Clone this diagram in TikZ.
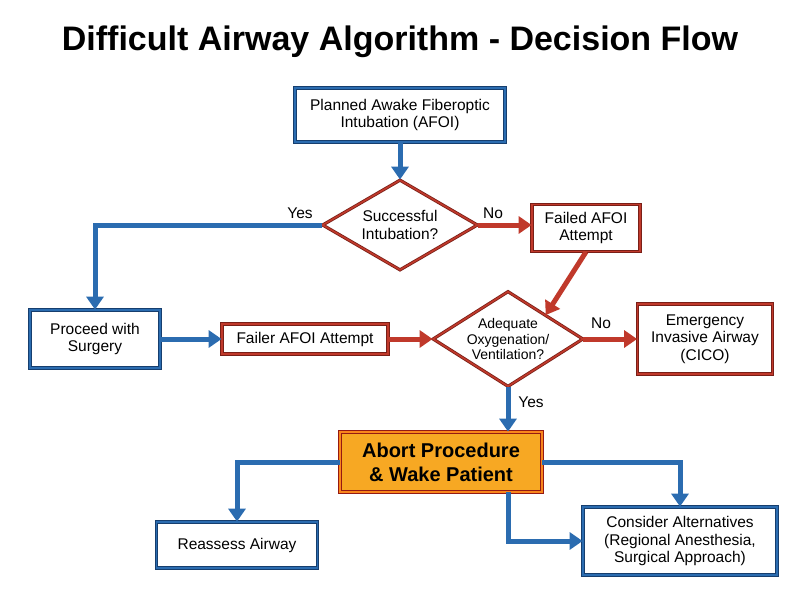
\documentclass[tikz,border=0pt]{standalone}
\usepackage{fontspec}
\setmainfont{Liberation Sans}
\usetikzlibrary{shapes.geometric,arrows.meta}
\definecolor{bl}{HTML}{2B6CB0}
\definecolor{dbl}{HTML}{163E6E}
\definecolor{rd}{HTML}{C0392B}
\definecolor{drd}{HTML}{7A1F17}
\definecolor{org}{HTML}{F7A823}
\begin{document}
\begin{tikzpicture}[x=1pt,y=-1pt,font=\fontsize{15.5}{17.5}\selectfont,
 bbox/.style={rectangle,draw=dbl,double=bl,double distance=1.6pt,line width=0.8pt,fill=white,align=center,inner sep=2pt},
 rbox/.style={rectangle,draw=drd,double=rd,double distance=1.6pt,line width=0.8pt,fill=white,align=center,inner sep=2pt},
 dia/.style={diamond,draw=drd,double=rd,double distance=1.6pt,line width=0.8pt,fill=white,align=center,inner sep=0pt},
 barr/.style={draw=bl,line width=5pt,-{Triangle[length=13pt,width=17pt]}},
 rarr/.style={draw=rd,line width=5pt,-{Triangle[length=13pt,width=17pt]}},
 lbl/.style={font=\fontsize{15.5}{17.5}\selectfont}]
\useasboundingbox (0,0) rectangle (800,600);
\fill[white] (0,0) rectangle (800,600);
\node[font=\fontsize{34}{38}\bfseries] (title) at (400,42) {Difficult Airway Algorithm - Decision Flow};
\node[bbox,minimum width=210pt,minimum height=54pt] (afoi) at (400,115) {Planned Awake Fiberoptic\\Intubation (AFOI)};
\node[dia,minimum width=155pt,minimum height=90pt] (d1) at (400,225) {};
\node[align=center] (t1) at (400,225) {Successful\\Intubation?};
\node[rbox,minimum width=108pt,minimum height=47pt] (fail) at (586,228) {Failed AFOI\\Attempt};
\node[bbox,minimum width=130pt,minimum height=58pt] (proc) at (95,339) {Proceed with\\Surgery};
\node[rbox,minimum width=166pt,minimum height=30pt] (failer) at (305,339) {Failer AFOI Attempt};
\node[dia,minimum width=150pt,minimum height=95pt] (d2) at (508,339) {};
\node[align=center,font=\fontsize{14}{15.5}\selectfont] (t2) at (508,339) {Adequate\\Oxygenation/\\Ventilation?};
\node[rbox,minimum width=135pt,minimum height=70pt] (emg) at (705,339) {Emergency\\Invasive Airway\\(CICO)};
\node[rectangle,draw=drd!80!red,double=org!80!red,double distance=1.6pt,line width=0.8pt,fill=org,align=center,minimum width=202pt,minimum height=60pt,font=\fontsize{20}{24}\bfseries] (abort) at (441,462) {Abort Procedure\\\& Wake Patient};
\node[bbox,minimum width=161pt,minimum height=46pt] (reas) at (237,545) {Reassess Airway};
\node[bbox,minimum width=194pt,minimum height=68pt] (cons) at (680,541) {Consider Alternatives\\(Regional Anesthesia,\\Surgical Approach)};
\coordinate (c1) at (95,225);
\coordinate (c2) at (237,462);
\coordinate (c3) at (680,462);
\coordinate (c4) at (508,541);
\draw[barr] (afoi) -- (d1);
\draw[barr] (d1.west) -- (c1) -- (proc.north);
\node[lbl] (yes1) at (300,213) {Yes};
\draw[rarr] (d1.east) -- (fail.west |- d1.east);
\node[lbl] (no1) at (493,213) {No};
\draw[rarr] (fail.south) -- (d2.north east);
\draw[barr] (proc.east) -- (failer.west);
\draw[rarr] (failer.east) -- (d2.west);
\draw[rarr] (d2.east) -- (emg.west);
\node[lbl] (no2) at (601,323) {No};
\draw[barr] (d2.south) -- (abort.north -| d2.south);
\node[lbl] (yes2) at (531,402) {Yes};
\draw[barr] (abort.west) -- (c2) -- (reas.north);
\draw[barr] (abort.east) -- (c3) -- (cons.north);
\draw[barr] (abort.south -| c4) -- (c4) -- (cons.west);
\end{tikzpicture}
\end{document}
